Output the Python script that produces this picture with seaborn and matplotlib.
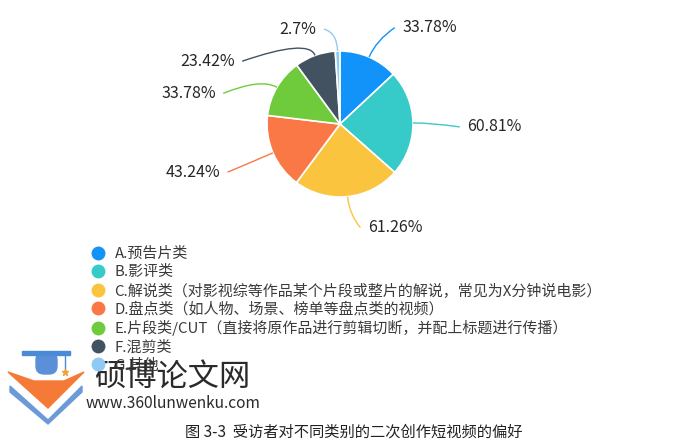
import numpy as np
import seaborn as sns
import matplotlib.pyplot as plt
from matplotlib.lines import Line2D
from matplotlib.path import Path
from matplotlib.patches import PathPatch, Polygon, FancyBboxPatch

# data
categories = ["A.预告片类", "B.影评类",
              "C.解说类（对影视综等作品某个片段或整片的解说，常见为X分钟说电影）",
              "D.盘点类（如人物、场景、榜单等盘点类的视频）",
              "E.片段类/CUT（直接将原作品进行剪辑切断，并配上标题进行传播）",
              "F.混剪类", "G.其他"]
values = [33.78, 60.81, 61.26, 43.24, 33.78, 23.42, 2.7]
colors = ["#1293fa", "#36cbc9", "#fbc43f", "#fa7846", "#6fcb3c", "#435260", "#8fcaf5"]
caption = "图 3-3  受访者对不同类别的二次创作短视频的偏好"

# label anchor points (in pie radius units) - layout only
label_pos = [(0.85, 1.32), (1.74, -0.04), (0.38, -1.42), (-1.64, -0.66),
             (-1.70, 0.42), (-1.44, 0.86), (-0.32, 1.30)]

sns.set_theme(style="white")
plt.rcParams['font.family'] = ['Noto Sans CJK SC', 'DejaVu Sans']

W, H = 684, 441
fig = plt.figure(figsize=(W / 100, H / 100), dpi=100)
fig.patch.set_facecolor("white")

# pie axes, 1 unit = R pixels, centre at (340, 124) px
R = 73
cx, cy = 340, 124
left, right, top, bottom = 150, 540, 0, 250
ax = fig.add_axes([left / W, 1 - bottom / H, (right - left) / W, (bottom - top) / H])
wedges, _ = ax.pie(values, colors=sns.color_palette(colors), startangle=90, counterclock=False,
                   wedgeprops=dict(edgecolor="white", linewidth=1.2))
ax.set_xlim((left - cx) / R, (right - cx) / R)
ax.set_ylim((cy - bottom) / R, (cy - top) / R)
ax.set_aspect("auto")
ax.axis("off")

# labels + curved leader lines
for w, v, c, (lx, ly) in zip(wedges, values, colors, label_pos):
    ang = np.deg2rad((w.theta1 + w.theta2) / 2)
    d = np.array([np.cos(ang), np.sin(ang)])
    p0 = d * 1.0
    p1 = d * 1.25
    side = 1 if lx > 0 else -1
    p2 = np.array([lx - side * 0.1, ly])
    path = Path([p0, p1, p2], [Path.MOVETO, Path.CURVE3, Path.CURVE3])
    ax.add_patch(PathPatch(path, facecolor="none", edgecolor=c, lw=1.0, clip_on=False))
    ax.text(lx, ly, f"{v:g}%", ha="left" if side > 0 else "right", va="center",
            fontsize=11.5, color="#262626")

# legend
handles = [Line2D([], [], marker="o", linestyle="", markersize=9, color=c) for c in colors]
fig.legend(handles, categories, loc="upper left", bbox_to_anchor=(92 / W, 1 - 247 / H),
           frameon=False, fontsize=10.8, handlelength=0.78, handletextpad=0.72,
           labelspacing=0.26, borderpad=0, borderaxespad=0, labelcolor="#3a3a3a")

# overlay in pixel coords for watermark and caption
ov = fig.add_axes([0, 0, 1, 1], zorder=5)
ov.set_xlim(0, W)
ov.set_ylim(H, 0)
ov.axis("off")
ov.patch.set_alpha(0)

# watermark logo (rough)
ov.add_patch(Polygon([(10, 386), (48, 420), (82, 386), (82, 392), (48, 424), (10, 392)],
                     closed=True, color="#6a9ad8"))
ov.add_patch(Polygon([(8, 372), (34, 381), (64, 381), (84, 372), (48, 408)],
                     closed=True, color="#f57a38"))
ov.add_patch(FancyBboxPatch((36, 352), 21, 22, boxstyle="round,pad=0,rounding_size=8",
                            color="#5b90d8"))
ov.add_patch(Polygon([(22, 351), (70, 351), (70, 355), (22, 355)], closed=True, color="#4a8ad6"))
ov.plot([65, 65], [355, 369], color="#4a8ad6", lw=1)
ov.plot([65], [372], marker="*", color="#f5a030", markersize=5)

ov.text(94, 377, "硕博论文网", fontsize=22.5, color="#2a2a2a", va="center", ha="left",
        bbox=dict(facecolor="white", edgecolor="none", alpha=0.85, pad=0))
ov.text(86, 404, "www.360lunwenku.com", fontsize=11.2, color="#2a2a2a", va="center", ha="left")

# caption
ov.text(354, 432, caption, fontsize=11, color="#222222", ha="center", va="center")

fig.savefig("out.png", dpi=100, facecolor="white")
